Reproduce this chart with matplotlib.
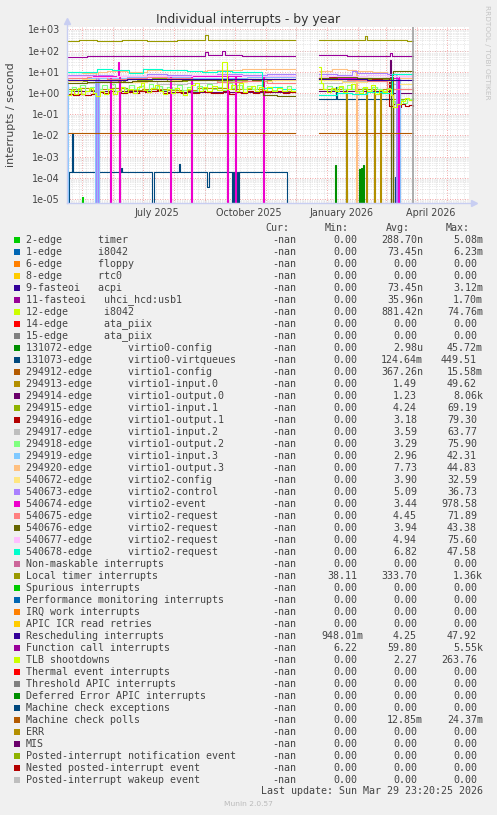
import numpy as np
import pandas as pd
import matplotlib
matplotlib.use('Agg')
import matplotlib.pyplot as plt
import matplotlib.dates as mdates
from matplotlib.ticker import FixedLocator, LogLocator, NullFormatter
from matplotlib.patches import Rectangle

nan = np.nan

# time axis: days counted from the first day of the graph
start = pd.Timestamp('2025-04-16')
view_days = 402
data_end_day = 346

# series as (day, value) breakpoints; 0 = dropped to zero
timer_2 = [(0, 0), (15, 1.2e-5), (16, 0), (228, nan), (252, 0), (346, 0)]
virtio0_config = [(0, 0), (228, nan), (252, 0), (268, 4e-4), (269, 0), (279, 2.6e-5), (280, 0),
                  (289, 1e-5), (290, 0), (292, 2.6e-4), (293, 0), (294, 3e-4), (295, 0),
                  (296, 4e-4), (297, 0), (346, 0)]
virtio0_virtqueues = [(0, 0), (2, 1.8e-4), (5, 0.013), (6, 1.8e-4), (54, 3e-4), (55, 1.8e-4),
                      (85, 0), (87, 1.8e-4), (112, 4.3e-4), (113, 1.8e-4), (140, 3.6e-5),
                      (142, 1.8e-4), (165, 0), (166, 1.8e-4), (167, 0), (170, 1.8e-4), (171, 0),
                      (172, 1.8e-4), (220, 0), (228, nan), (252, 0.5), (269, 2.0), (270, 0.5),
                      (323, 0.5), (326, 0), (328, 1.1e-4), (329, 0), (346, 0)]
virtio1_input0 = [(0, 1.5), (12, 1.7), (24, 1.4), (29, 0), (31, 1.5), (45, 1.8), (60, 1.4),
                  (75, 1.6), (100, 1.4), (130, 1.7), (160, 1.5), (195, 1.3), (228, nan),
                  (252, 1.5), (279, 0), (280, 1.5), (299, 0), (300, 1.5), (307, 0), (308, 1.5),
                  (313, 0), (314, 1.5), (346, 1.2)]
virtio1_output0 = [(0, 1.2), (100, 1.1), (228, nan), (252, 1.2), (323, 35), (324, 0), (326, 1.0),
                   (346, 1.0)]
virtio1_input1 = [(0, 4), (10, 3.6), (20, 4.3), (29, 0), (31, 4), (45, 3.5), (58, 4.5), (70, 4.0),
                  (85, 4.8), (100, 3.8), (120, 4.2), (140, 4.6), (160, 3.9), (180, 4.5),
                  (200, 4.1), (228, nan), (252, 4), (270, 4.6), (285, 3.8), (300, 4.5),
                  (324, 0), (326, 0.5), (346, 0.6)]
virtio1_output1 = [(0, 0.85), (6, 0.8), (12, 0.9), (18, 0.8), (24, 0.85), (29, 0), (31, 1.1),
                   (36, 1.0), (42, 1.2), (48, 1.3), (54, 1.0), (60, 1.1), (66, 0.95), (72, 1.3),
                   (78, 1.1), (84, 1.2), (90, 1.4), (96, 1.0), (102, 0.95), (108, 1.1),
                   (114, 1.0), (120, 1.2), (126, 1.0), (132, 1.3), (138, 1.1), (144, 0.95),
                   (150, 1.0), (156, 1.2), (162, 0.9), (168, 1.1), (174, 1.0), (180, 1.2),
                   (186, 1.0), (192, 1.3), (198, 1.1), (204, 1.2), (210, 1.3), (216, 1.0),
                   (222, 1.1), (228, nan), (252, 5), (262, 5.5), (275, 4.8), (290, 5.2),
                   (305, 4.5), (315, 5), (322, 0.25), (326, 0.3), (330, 0.22), (334, 0.3),
                   (338, 0.24), (342, 0.28), (346, 0.25)]
virtio1_input2 = [(0, 3.5), (15, 3.0), (29, 0), (31, 3.5), (50, 3.1), (70, 3.8), (90, 2.5),
                  (120, 3), (150, 3.6), (180, 3.5), (205, 2.8), (228, nan), (252, 3), (275, 3.6),
                  (300, 3.5), (320, 2.6), (346, 3)]
virtio1_output2 = [(0, 1.2), (5, 2.0), (9, 1.4), (13, 2.3), (18, 1.3), (23, 1.9), (29, 0),
                   (31, 1.5), (35, 2.4), (40, 1.6), (44, 2.6), (48, 1.3), (53, 2.0), (58, 1.5),
                   (62, 2.4), (67, 1.6), (72, 2.1), (77, 1.4), (82, 2.6), (86, 1.8), (90, 2.2),
                   (95, 1.4), (100, 2.0), (105, 1.5), (110, 2.3), (115, 1.4), (120, 1.9),
                   (125, 1.3), (130, 2.2), (135, 1.6), (140, 2.5), (145, 1.5), (150, 1.9),
                   (155, 1.4), (160, 2.8), (165, 1.8), (170, 2.4), (175, 1.6), (180, 2.1),
                   (185, 1.5), (190, 2.4), (195, 1.7), (200, 1.9), (205, 1.4), (210, 2.0),
                   (215, 1.6), (220, 2.1), (224, 1.5), (228, nan), (252, 3), (256, 1.6),
                   (260, 2.2), (265, 1.4), (270, 2.0), (275, 1.5), (280, 2.3), (285, 1.6),
                   (290, 1.2), (295, 1.8), (300, 1.3), (305, 2.0), (310, 1.5), (315, 1.2),
                   (320, 1.8), (324, 0.4), (328, 0.3), (332, 0.45), (336, 0.35), (340, 0.5),
                   (346, 0.45)]
virtio1_input3 = [(0, 0), (1, 5), (28, 0), (30, 5), (31, 0), (32, 5), (60, 5.5), (124, 0),
                  (125, 5), (180, 5.5), (228, nan), (252, 5), (332, 0), (333, 5), (346, 5)]
virtio1_output3 = [(0, 10), (15, 9), (29, 0), (31, 10), (40, 11), (60, 10), (80, 12), (100, 11.5),
                   (120, 11), (140, 12.5), (160, 12), (175, 13), (190, 14), (210, 13.5),
                   (228, nan), (252, 11), (265, 13), (280, 12), (289, 0), (290, 11), (305, 10),
                   (320, 8), (330, 5), (346, 5)]
virtio2_config = [(0, 3.5), (15, 4.3), (30, 4), (55, 3.3), (80, 3.5), (105, 4.2), (130, 4),
                  (155, 3.4), (180, 3.5), (205, 4.0), (228, nan), (252, 4), (275, 3.3),
                  (300, 3.5), (330, 2.5), (346, 3)]
virtio2_control = [(0, 7), (29, 0), (31, 7), (45, 6.2), (60, 6.5), (80, 7.5), (100, 7),
                   (125, 6.4), (150, 8), (175, 7.2), (200, 7.8), (228, nan), (252, 8), (270, 7),
                   (285, 11), (290, 9), (305, 8.5), (320, 8), (329, 0), (330, 6), (346, 6)]
virtio2_event = [(0, 6), (43, 0), (44, 6), (51, 28), (52, 0), (53, 6), (103, 0), (104, 6),
                 (124, 0), (125, 6), (160, 0), (161, 6), (168, 0), (169, 6), (196, 0), (197, 6),
                 (228, nan), (252, 5), (331, 0), (332, 6), (346, 6)]
virtio2_request_a = [(0, 5), (20, 5.5), (40, 4.6), (60, 4.8), (80, 5.4), (100, 5), (125, 4.2),
                     (150, 3.2), (175, 3.6), (200, 3), (228, nan), (252, 5), (265, 4.4),
                     (280, 4), (300, 3.5), (320, 1.5), (346, 2)]
virtio2_request_b = [(0, 3), (20, 3.4), (40, 3.2), (65, 3.8), (90, 3.5), (115, 4.2), (140, 4),
                     (165, 4.6), (185, 4.2), (196, 0.8), (210, 0.75), (228, nan), (252, 5),
                     (270, 5.6), (290, 5), (324, 0), (326, 11), (346, 10)]
virtio2_request_c = [(0, 6), (25, 5.5), (50, 6.5), (75, 6.0), (100, 6), (125, 7.0), (150, 6.8),
                     (175, 6.2), (200, 6.5), (228, nan), (252, 6), (275, 6.6), (300, 7),
                     (320, 6.3), (346, 6)]
virtio2_request_d = [(0, 9.5), (15, 10), (30, 13), (45, 12), (62, 9), (76, 13), (95, 12),
                     (110, 12.5), (120, 11), (135, 10), (150, 10.5), (165, 9.5), (180, 10),
                     (195, 1.7), (205, 2.0), (215, 1.6), (228, nan), (252, 0.8), (270, 1.0),
                     (285, 0.9), (300, 1.1), (315, 1.0), (325, 7.5), (346, 8)]
local_timer = [(0, 290), (12, 300), (30, 285), (55, 300), (80, 290), (110, 305), (138, 560),
               (141, 320), (160, 300), (185, 315), (210, 310), (228, nan), (252, 300), (275, 310),
               (298, 500), (300, 320), (320, 300), (340, 295), (346, 295)]
rescheduling = [(0, 4.2), (60, 4.4), (120, 4.3), (180, 4.5), (228, nan), (252, 4.3), (300, 4.2),
                (346, 4.2)]
function_call = [(0, 52), (20, 55), (50, 53), (80, 57), (110, 55), (138, 85), (141, 60),
                 (155, 90), (158, 62), (175, 58), (200, 57), (228, nan), (252, 60), (280, 57),
                 (300, 58), (323, 80), (325, 55), (346, 55)]
tlb_shootdowns = [(0, 0.8), (4, 1.4), (7, 0.9), (11, 1.7), (14, 0.9), (18, 1.2), (22, 1.8),
                  (26, 1.0), (29, 0.7), (33, 1.3), (37, 0.9), (41, 1.5), (46, 0.9), (50, 1.2),
                  (54, 2.0), (57, 1.1), (61, 1.6), (66, 1.0), (70, 1.9), (74, 2.8), (77, 1.4),
                  (80, 1.1), (84, 1.7), (88, 2.4), (92, 1.3), (96, 0.9), (100, 1.5), (104, 1.0),
                  (108, 1.8), (112, 1.2), (116, 0.8), (120, 1.6), (124, 2.3), (128, 3.0),
                  (132, 1.3), (136, 1.9), (140, 1.2), (145, 2.1), (150, 1.4), (155, 28),
                  (160, 1.5), (164, 2.4), (168, 1.2), (172, 2.8), (176, 1.1), (180, 1.7),
                  (184, 2.2), (188, 1.3), (192, 2.0), (196, 1.4), (200, 1.9), (205, 1.2),
                  (210, 1.8), (215, 1.3), (220, 1.6), (224, 1.2), (228, nan), (252, 16),
                  (254, 3), (256, 1.6), (260, 1.1), (264, 1.8), (268, 1.2), (272, 2.2),
                  (276, 1.1), (280, 1.5), (284, 2.6), (288, 1.3), (292, 1.0), (296, 1.9),
                  (300, 1.2), (304, 2.3), (308, 0.9), (312, 1.4), (316, 1.1), (320, 1.6),
                  (324, 0.8), (326, 0.22), (330, 0.3), (334, 0.4), (338, 0.6), (342, 0.45),
                  (346, 0.5)]
mc_polls = [(0, 0.0129), (228, nan), (252, 0.0129), (346, 0.0129)]

# legend table
names = [
    "2-edge      timer", "1-edge      i8042", "6-edge      floppy", "8-edge      rtc0",
    "9-fasteoi   acpi", "11-fasteoi   uhci_hcd:usb1", "12-edge      i8042",
    "14-edge      ata_piix", "15-edge      ata_piix",
    "131072-edge      virtio0-config", "131073-edge      virtio0-virtqueues",
    "294912-edge      virtio1-config", "294913-edge      virtio1-input.0",
    "294914-edge      virtio1-output.0", "294915-edge      virtio1-input.1",
    "294916-edge      virtio1-output.1", "294917-edge      virtio1-input.2",
    "294918-edge      virtio1-output.2", "294919-edge      virtio1-input.3",
    "294920-edge      virtio1-output.3", "540672-edge      virtio2-config",
    "540673-edge      virtio2-control", "540674-edge      virtio2-event",
    "540675-edge      virtio2-request", "540676-edge      virtio2-request",
    "540677-edge      virtio2-request", "540678-edge      virtio2-request",
    "Non-maskable interrupts", "Local timer interrupts", "Spurious interrupts",
    "Performance monitoring interrupts", "IRQ work interrupts", "APIC ICR read retries",
    "Rescheduling interrupts", "Function call interrupts", "TLB shootdowns",
    "Thermal event interrupts", "Threshold APIC interrupts", "Deferred Error APIC interrupts",
    "Machine check exceptions", "Machine check polls", "ERR", "MIS",
    "Posted-interrupt notification event", "Nested posted-interrupt event",
    "Posted-interrupt wakeup event",
]
palette = ['#00CC00', '#0066B3', '#FF8000', '#FFCC00', '#330099', '#990099', '#CCFF00',
           '#FF0000', '#808080', '#008F00', '#00487D', '#B35A00', '#B38F00', '#6B006B',
           '#8FB300', '#B30000', '#BEBEBE', '#80FF80', '#80C9FF', '#FFC080', '#FFE680',
           '#AA80FF', '#EE00CC', '#FF8080', '#666600', '#FFBFFF', '#00FFCC', '#CC6699',
           '#999900']
mins = ['0.00'] * 46
mins[28] = '38.11'
mins[33] = '948.01m'
mins[34] = '6.22'
avgs = ['288.70n', '73.45n', '0.00', '0.00', '73.45n', '35.96n', '881.42n', '0.00', '0.00',
        '2.98u', '124.64m', '367.26n', '1.49', '1.23', '4.24', '3.18', '3.59', '3.29', '2.96',
        '7.73', '3.90', '5.09', '3.44', '4.45', '3.94', '4.94', '6.82', '0.00', '333.70',
        '0.00', '0.00', '0.00', '0.00', '4.25', '59.80', '2.27', '0.00', '0.00', '0.00', '0.00',
        '12.85m', '0.00', '0.00', '0.00', '0.00', '0.00']
maxs = ['5.08m', '6.23m', '0.00', '0.00', '3.12m', '1.70m', '74.76m', '0.00', '0.00', '45.72m',
        '449.51', '15.58m', '49.62', '8.06k', '69.19', '79.30', '63.77', '75.90', '42.31',
        '44.83', '32.59', '36.73', '978.58', '71.89', '43.38', '75.60', '47.58', '0.00', '1.36k',
        '0.00', '0.00', '0.00', '0.00', '47.92', '5.55k', '263.76', '0.00', '0.00', '0.00',
        '0.00', '24.37m', '0.00', '0.00', '0.00', '0.00', '0.00']

# which legend row each plotted series belongs to
plotted = {0: timer_2, 9: virtio0_config, 10: virtio0_virtqueues, 12: virtio1_input0,
           13: virtio1_output0, 14: virtio1_input1, 15: virtio1_output1, 16: virtio1_input2,
           17: virtio1_output2, 18: virtio1_input3, 19: virtio1_output3, 20: virtio2_config,
           21: virtio2_control, 22: virtio2_event, 23: virtio2_request_a,
           24: virtio2_request_b, 25: virtio2_request_c, 26: virtio2_request_d,
           28: local_timer, 33: rescheduling, 34: function_call, 35: tlb_shootdowns,
           40: mc_polls}

W, H = 497, 815
txt = '#444444'
fig = plt.figure(figsize=(W / 100, H / 100), dpi=100, facecolor='#F0F0F0')
ax = fig.add_axes([67 / W, 1 - 203 / H, 402 / W, 176 / H])
ax.set_facecolor('white')
ax.set_yscale('log', nonpositive='clip')

t0 = mdates.date2num(start)
for i, pts in plotted.items():
    d = np.array([p[0] for p in pts], float)
    v = np.array([p[1] for p in pts], float)
    ax.plot(t0 + d, v, color=palette[i % len(palette)], lw=0.8, drawstyle='steps-post')

ax.axvline(t0 + data_end_day, color='#A0A0A0', lw=1.2)

ax.set_xlim(t0, t0 + view_days)
ax.set_ylim(10 ** -5.19, 10 ** 3.108)

# grids
grid_minor = dict(color='#D4D4D4', lw=0.5, linestyle=(0, (1, 1.5)))
grid_major = dict(color='#F08A8A', lw=0.6, linestyle=(0, (1, 2)))
ax.yaxis.set_major_locator(FixedLocator([10.0 ** k for k in range(-5, 4)]))
ax.yaxis.set_major_formatter(plt.FuncFormatter(lambda v, p: f'{v:.0e}'))
ax.yaxis.set_minor_locator(LogLocator(base=10, subs=np.arange(2, 10), numticks=20))
ax.yaxis.set_minor_formatter(NullFormatter())
ax.grid(True, which='minor', axis='y', **grid_minor)
ax.grid(True, which='major', axis='y', **grid_major)

ax.xaxis.set_minor_locator(mdates.WeekdayLocator(byweekday=mdates.MO))
ax.grid(True, which='minor', axis='x', **grid_minor)
for m in pd.date_range('2025-05-01', '2026-05-01', freq='MS'):
    ax.axvline(mdates.date2num(m), zorder=0.5, **grid_major)
label_days = pd.to_datetime(['2025-07-15', '2025-10-15', '2026-01-15', '2026-04-15'])
ax.xaxis.set_major_locator(FixedLocator(mdates.date2num(label_days)))
ax.set_xticklabels([d.strftime('%B %Y') for d in label_days])
ax.set_axisbelow(True)

ax.tick_params(which='both', length=0, colors=txt, labelsize=6.9)
ax.tick_params(axis='y', pad=5)
ax.tick_params(axis='x', pad=3.5)
for s in ax.spines.values():
    s.set_visible(False)

# rrd style axes with arrows
axis_col = '#C8CEF2'
ax.plot([0, 0], [0, 1.03], transform=ax.transAxes, color=axis_col, lw=1, clip_on=False)
ax.plot([0, 1.01], [0, 0], transform=ax.transAxes, color=axis_col, lw=1, clip_on=False)
ax.plot([0], [1.035], marker='^', ms=4, color=axis_col, transform=ax.transAxes, clip_on=False)
ax.plot([1.012], [0], marker='>', ms=4, color=axis_col, transform=ax.transAxes, clip_on=False)

fig.text(248 / W, 1 - 19 / H, 'Individual interrupts - by year', ha='center', va='center',
         fontsize=8.9, color='#333333')
fig.text(11 / W, 1 - 115 / H, 'interrupts / second', rotation=90, ha='center', va='center',
         fontsize=7.9, color=txt)
fig.text(487 / W, 1 - 5 / H, 'RRDTOOL / TOBI OETIKER', rotation=270, ha='center', va='top',
         fontsize=5.3, color='#C4C4C4')

# legend table, laid out in pixels
lg = fig.add_axes([0, 0, 1, 1])
lg.set_xlim(0, W)
lg.set_ylim(H, 0)
lg.axis('off')
mono = dict(family='DejaVu Sans Mono', fontsize=7.2, color=txt, va='center')


def cell(x_right, y, s):
    x = x_right if s[-1].isalpha() else x_right - 6
    lg.text(x, y, s, ha='right', **mono)


for x, h in zip([289, 349, 410, 470], ['Cur:', 'Min:', 'Avg:', 'Max:']):
    lg.text(x, 228, h, ha='right', **mono)
for i, name in enumerate(names):
    y = 240 + 12 * i
    lg.add_patch(Rectangle((14, y - 3), 6, 6, color=palette[i % len(palette)], lw=0))
    lg.text(26, y, name, ha='left', **mono)
    lg.text(296, y, '-nan', ha='right', **mono)
    cell(363, y, mins[i])
    cell(423, y, avgs[i])
    cell(483, y, maxs[i])

lg.text(483, 791, 'Last update: Sun Mar 29 23:20:25 2026', ha='right', **mono)
lg.text(248, 804, 'Munin 2.0.57', ha='center', va='center', fontsize=5.4, color='#BBBBBB')

fig.savefig('out.png', dpi=100, facecolor=fig.get_facecolor())
